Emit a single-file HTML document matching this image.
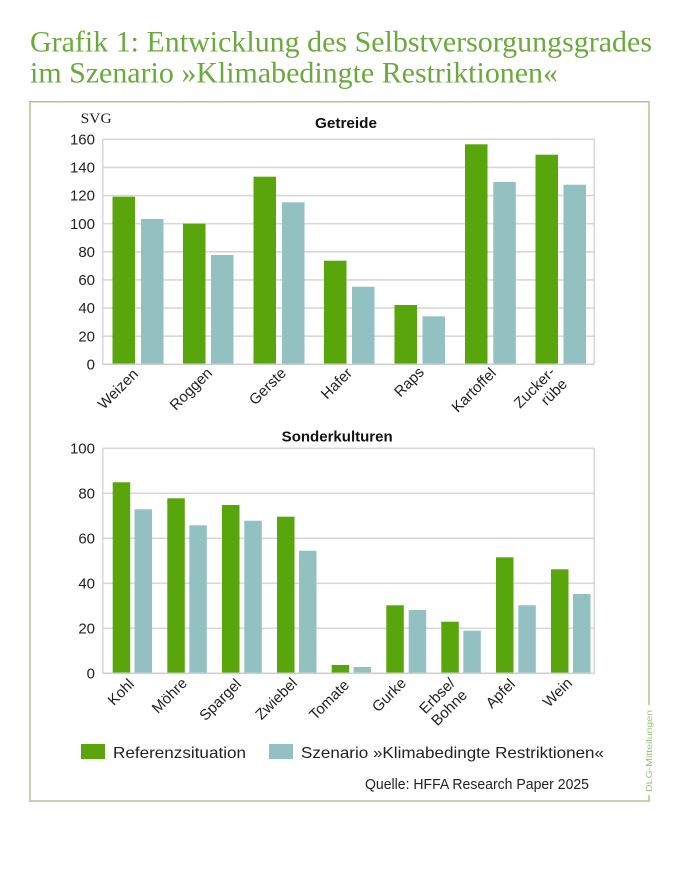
<!DOCTYPE html>
<html>
<head>
<meta charset="utf-8">
<style>
  html, body { margin: 0; padding: 0; background: #ffffff; }
  body { width: 684px; height: 873px; overflow: hidden; }
  svg { display: block; }
  .tk { font-family: "Liberation Sans", sans-serif; font-size: 15px; fill: #222; text-anchor: end; }
  .xl { font-family: "Liberation Sans", sans-serif; font-size: 15px; fill: #222; text-anchor: end; }
  .ttl { font-family: "Liberation Sans", sans-serif; font-size: 14.5px; font-weight: bold; fill: #111; }
  .g { fill: #58a60b; }
  .t { fill: #93c0c1; }
  .grid { stroke: #d8d8d8; stroke-width: 1.6; fill: none; }
</style>
</head>
<body>
<svg width="684" height="873" viewBox="0 0 684 873" xmlns="http://www.w3.org/2000/svg">
  <!-- Title -->
  <text x="30" y="51.7" font-family="Liberation Serif, serif" font-size="29.5" fill="#6aaa3d" textLength="622" lengthAdjust="spacingAndGlyphs">Grafik 1: Entwicklung des Selbstversorgungsgrades</text>
  <text x="30" y="82.3" font-family="Liberation Serif, serif" font-size="29.5" fill="#6aaa3d" textLength="528" lengthAdjust="spacingAndGlyphs">im Szenario »Klimabedingte Restriktionen«</text>

  <!-- Frame -->
  <path d="M649 705 L649 101.7 L30 101.7 L30 801 L649 801 L649 795" fill="none" stroke="#a9c98e" stroke-width="1.5"/>
  <text transform="translate(652,792) rotate(-90)" font-family="Liberation Sans, sans-serif" font-size="8.5" fill="#96c27a" textLength="82" lengthAdjust="spacingAndGlyphs">DLG-Mitteilungen</text>

  <!-- Chart 1: Getreide -->
  <text x="80.7" y="123" font-family="Liberation Serif, serif" font-size="15" fill="#222" textLength="31" lengthAdjust="spacingAndGlyphs">SVG</text>
  <text x="315" y="128" class="ttl" textLength="62" lengthAdjust="spacingAndGlyphs">Getreide</text>

  <g class="grid">
    <line x1="102.7" y1="139.3" x2="594.3" y2="139.3"/>
    <line x1="102.7" y1="167.4" x2="594.3" y2="167.4"/>
    <line x1="102.7" y1="195.55" x2="594.3" y2="195.55"/>
    <line x1="102.7" y1="223.7" x2="594.3" y2="223.7"/>
    <line x1="102.7" y1="251.8" x2="594.3" y2="251.8"/>
    <line x1="102.7" y1="279.9" x2="594.3" y2="279.9"/>
    <line x1="102.7" y1="308.05" x2="594.3" y2="308.05"/>
    <line x1="102.7" y1="336.2" x2="594.3" y2="336.2"/>
    <line x1="102.7" y1="139.3" x2="102.7" y2="364.3"/>
    <line x1="594.3" y1="139.3" x2="594.3" y2="364.3"/>
  </g>

  <g>
    <rect class="g" x="112.5" y="196.7" width="22.5" height="167.6"/>
    <rect class="t" x="141" y="219" width="22.5" height="145.3"/>
    <rect class="g" x="183" y="223.7" width="22.5" height="140.6"/>
    <rect class="t" x="211" y="255" width="22.5" height="109.3"/>
    <rect class="g" x="253.5" y="176.7" width="22.5" height="187.6"/>
    <rect class="t" x="282" y="202.3" width="22.5" height="162"/>
    <rect class="g" x="324" y="260.7" width="22.5" height="103.6"/>
    <rect class="t" x="352" y="286.7" width="22.5" height="77.6"/>
    <rect class="g" x="394.5" y="305" width="22.5" height="59.3"/>
    <rect class="t" x="422.5" y="316.3" width="22.5" height="48"/>
    <rect class="g" x="465" y="144.3" width="22.5" height="220"/>
    <rect class="t" x="493.3" y="182" width="22.5" height="182.3"/>
    <rect class="g" x="535.5" y="154.7" width="22.5" height="209.6"/>
    <rect class="t" x="563.5" y="184.7" width="22.5" height="179.6"/>
  </g>
  <line x1="102.7" y1="364.3" x2="594.3" y2="364.3" stroke="#cfcfcf" stroke-width="1.6"/>

  <g class="tk">
    <text x="95" y="144.5">160</text>
    <text x="95" y="172.6">140</text>
    <text x="95" y="200.7">120</text>
    <text x="95" y="228.9">100</text>
    <text x="95" y="257">80</text>
    <text x="95" y="285.1">60</text>
    <text x="95" y="313.2">40</text>
    <text x="95" y="341.4">20</text>
    <text x="95" y="369.5">0</text>
  </g>

  <g class="xl">
    <text transform="translate(139,375) rotate(-45)">Weizen</text>
    <text transform="translate(213,374) rotate(-45)">Roggen</text>
    <text transform="translate(287,374) rotate(-45)">Gerste</text>
    <text transform="translate(353,374) rotate(-45)">Hafer</text>
    <text transform="translate(425,373) rotate(-45)">Raps</text>
    <text transform="translate(497,374) rotate(-45)">Kartoffel</text>
    <text transform="translate(556,373) rotate(-45)">Zucker-</text>
    <text transform="translate(568,385) rotate(-45)">rübe</text>
  </g>

  <!-- Chart 2: Sonderkulturen -->
  <text x="281.7" y="441.7" class="ttl" textLength="111" lengthAdjust="spacingAndGlyphs">Sonderkulturen</text>

  <g class="grid">
    <line x1="102.7" y1="448.3" x2="594.3" y2="448.3"/>
    <line x1="102.7" y1="493.3" x2="594.3" y2="493.3"/>
    <line x1="102.7" y1="538.3" x2="594.3" y2="538.3"/>
    <line x1="102.7" y1="583.3" x2="594.3" y2="583.3"/>
    <line x1="102.7" y1="628.3" x2="594.3" y2="628.3"/>
    <line x1="102.7" y1="448.3" x2="102.7" y2="673.3"/>
    <line x1="594.3" y1="448.3" x2="594.3" y2="673.3"/>
  </g>

  <g>
    <rect class="g" x="112.7" y="482.3" width="17.5" height="191"/>
    <rect class="t" x="134.5" y="509.3" width="17.5" height="164"/>
    <rect class="g" x="167.3" y="498.3" width="17.5" height="175"/>
    <rect class="t" x="189.3" y="525.3" width="17.5" height="148"/>
    <rect class="g" x="222" y="505" width="17.5" height="168.3"/>
    <rect class="t" x="244.3" y="520.7" width="17.5" height="152.6"/>
    <rect class="g" x="277" y="516.7" width="17.5" height="156.6"/>
    <rect class="t" x="299" y="550.7" width="17.5" height="122.6"/>
    <rect class="g" x="331.7" y="665" width="17.5" height="8.3"/>
    <rect class="t" x="353.5" y="667" width="17.5" height="6.3"/>
    <rect class="g" x="386.3" y="605.3" width="17.5" height="68"/>
    <rect class="t" x="408.7" y="610" width="17.5" height="63.3"/>
    <rect class="g" x="441.3" y="621.7" width="17.5" height="51.6"/>
    <rect class="t" x="463.3" y="630.7" width="17.5" height="42.6"/>
    <rect class="g" x="496" y="557.3" width="17.5" height="116"/>
    <rect class="t" x="518.3" y="605.3" width="17.5" height="68"/>
    <rect class="g" x="551" y="569.3" width="17.5" height="104"/>
    <rect class="t" x="573" y="594" width="17.5" height="79.3"/>
  </g>
  <line x1="102.7" y1="673.3" x2="594.3" y2="673.3" stroke="#cfcfcf" stroke-width="1.6"/>

  <g class="tk">
    <text x="95" y="453.5">100</text>
    <text x="95" y="498.5">80</text>
    <text x="95" y="543.5">60</text>
    <text x="95" y="588.5">40</text>
    <text x="95" y="633.5">20</text>
    <text x="95" y="678.5">0</text>
  </g>

  <g class="xl">
    <text transform="translate(135,685) rotate(-45)">Kohl</text>
    <text transform="translate(188,684) rotate(-45)">Möhre</text>
    <text transform="translate(242,685) rotate(-45)">Spargel</text>
    <text transform="translate(298,684) rotate(-45)">Zwiebel</text>
    <text transform="translate(350,686) rotate(-45)">Tomate</text>
    <text transform="translate(407,684) rotate(-45)">Gurke</text>
    <text transform="translate(456,684) rotate(-45)">Erbse/</text>
    <text transform="translate(468,696) rotate(-45)">Bohne</text>
    <text transform="translate(516,685) rotate(-45)">Apfel</text>
    <text transform="translate(573,684) rotate(-45)">Wein</text>
  </g>

  <!-- Legend -->
  <rect x="81" y="744" width="24" height="15" class="g"/>
  <text x="113" y="758" font-family="Liberation Sans, sans-serif" font-size="16" fill="#222" textLength="133" lengthAdjust="spacingAndGlyphs">Referenzsituation</text>
  <rect x="269" y="744" width="24" height="15" class="t"/>
  <text x="301" y="758" font-family="Liberation Sans, sans-serif" font-size="16" fill="#222" textLength="303" lengthAdjust="spacingAndGlyphs">Szenario »Klimabedingte Restriktionen«</text>

  <text x="365" y="789" font-family="Liberation Sans, sans-serif" font-size="14.5" fill="#222" textLength="224" lengthAdjust="spacingAndGlyphs">Quelle: HFFA Research Paper 2025</text>
</svg>
</body>
</html>
